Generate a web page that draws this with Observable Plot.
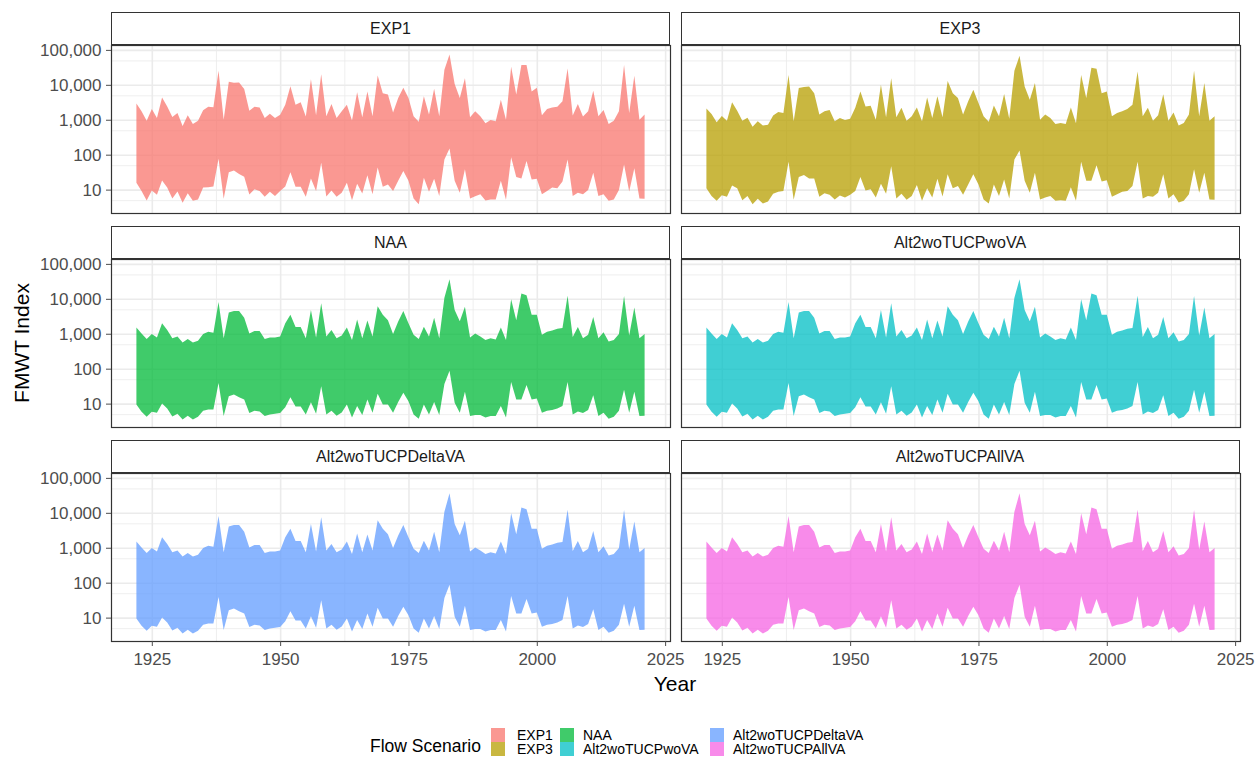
<!DOCTYPE html>
<html>
<head>
<meta charset="utf-8">
<script src="https://cdn.jsdelivr.net/npm/d3@7"></script>
<script src="https://cdn.jsdelivr.net/npm/@observablehq/plot@0.6"></script>
<style>
  html, body { margin: 0; padding: 0; background: #fff; }
  #root { position: relative; width: 1256px; height: 764px; font-family: "Liberation Sans", Arial, sans-serif; overflow: hidden; }
  .strip { position: absolute; box-sizing: border-box; border: 1.2px solid #333; background: #fff; text-align: center; font-size: 16px; color: #1a1a1a; }
  .abs { position: absolute; }
  .key { position: absolute; width: 14px; height: 14px; }
  .lab { position: absolute; font-size: 14px; color: #000; line-height: 14px; }
</style>
</head>
<body>
<div id="root"></div>
<script>
// ---------------- data ----------------
const years = d3.range(1922, 2022);
const scenarios = ["EXP1", "EXP3", "NAA", "Alt2woTUCPwoVA", "Alt2woTUCPDeltaVA", "Alt2woTUCPAllVA"];
const colors = ["#F8766D", "#B79F00", "#00BA38", "#00BFC4", "#619CFF", "#F564E3"];

const exp1Upper = [2900,1740,930,2040,1120,4370,2400,1200,1550,660,1350,760,930,1860,2340,2290,25100,1000,12300,11500,
  11700,7600,1820,2340,2240,1120,1480,1120,1380,2690,9100,2690,3160,1230,14500,1350,20000,1260,2820,1120,
  1740,2690,950,6170,1170,6460,1260,18600,5750,5250,1620,4170,8300,4170,1260,870,4680,1410,7760,1260,
  26900,74100,10500,4170,15500,1170,1740,1260,790,980,910,3720,1000,33100,5250,37200,37200,6460,8300,1350,
  2040,2240,2340,3390,29500,1320,2820,1230,1740,6760,1260,1910,760,930,1740,37200,1550,18200,1000,1410];
const exp1Lower = [15.8,9.1,4.9,9.5,7.1,18.2,11.5,5.6,8.9,4.2,7.9,4.8,5.2,11.5,11.7,12.3,75.9,5.5,31.6,35.5,
  28.2,23.4,7.2,10.2,9.1,6.2,8.7,6.6,9.1,12.3,31.6,12.0,12.0,6.2,20.9,9.1,58.9,6.3,9.5,6.2,
  8.1,15.8,5.0,14.8,7.8,25.7,7.4,42.7,12.0,14.1,9.1,17.8,33.9,17.8,5.6,3.8,21.9,8.7,20.4,6.6,
  72.4,151,17.8,8.1,38.0,5.6,6.5,7.4,4.9,5.2,5.2,17.8,5.1,85.1,22.9,20.9,66.1,19.5,20.4,7.4,
  9.1,11.5,11.0,17.0,72.4,6.6,8.1,7.4,9.8,30.2,6.6,7.4,4.8,5.2,9.8,52.5,8.9,40.7,5.6,5.5];

const exp3Upper = [2090,1450,850,1290,930,3160,1820,930,1150,630,910,680,720,1320,1660,1550,19100,910,8130,8710,
  8910,5750,1410,1740,1910,910,1120,980,1070,2190,6460,2400,2510,1000,10000,1170,15500,1170,2190,930,
  1260,2240,910,4370,1120,4680,1170,12900,5750,4170,1410,3390,7240,3020,1260,870,2570,1260,5500,1070,
  25100,67600,8910,3720,11200,1000,1410,1120,760,810,760,2240,790,19100,4170,30900,28800,5750,6460,1260,
  1550,1740,2040,2690,24000,1260,2190,930,1350,5370,930,1620,690,810,1410,25100,1260,11200,930,1260];
const exp3Lower = [11.0,6.6,4.8,6.9,6.2,13.2,11.0,5.0,6.6,3.8,5.5,4.0,4.6,7.6,8.7,9.1,63.1,5.1,22.9,26.3,
  20.9,20.9,6.2,7.9,7.1,5.2,6.8,5.9,7.1,9.1,22.9,9.5,10.2,5.9,14.8,7.6,46.8,5.6,7.6,5.1,
  6.6,13.5,4.8,11.0,5.9,20.4,6.3,27.5,11.0,12.6,7.1,14.1,27.5,14.1,5.2,4.0,14.1,6.6,19.5,5.6,
  72.4,132,17.8,8.1,30.2,5.2,5.9,6.6,4.8,5.0,4.8,11.7,4.8,63.1,17.8,17.8,50.1,17.0,18.6,6.2,
  7.4,8.7,9.1,12.6,63.1,5.6,6.6,6.2,8.1,27.5,5.6,7.4,4.3,4.8,7.4,38.0,8.1,30.2,5.2,5.1];

const naaUpper = [1510,1020,710,980,780,2000,1290,740,830,560,710,560,630,980,1150,1070,8130,740,4070,4470,
  4470,2880,1020,1200,1200,710,780,780,830,2000,3470,1550,1550,740,4790,780,7410,830,1290,740,
  890,1510,660,2570,740,2400,830,6170,3470,2450,980,2240,4470,2000,930,710,1580,830,2880,740,
  10700,36300,4790,2290,5890,780,1020,830,660,740,690,1510,660,9770,2450,14100,12600,3470,3470,930,
  1150,1230,1380,1450,12300,810,1550,740,930,3020,740,1100,600,660,980,12000,890,5620,740,980];
const naaLower = [9.5,5.8,4.2,5.8,5.5,10.0,7.2,4.3,5.1,3.5,4.5,3.5,4.2,6.2,6.8,6.8,38.9,4.4,16.2,18.2,
  15.1,13.2,5.4,6.2,5.9,4.4,4.9,5.1,5.4,7.9,15.1,8.3,8.3,4.9,11.0,5.1,31.6,4.9,6.2,4.5,
  5.6,9.5,4.0,8.5,4.7,13.2,5.5,19.1,9.5,9.5,5.5,11.2,20.4,11.7,4.9,3.7,9.5,4.9,11.2,4.7,
  36.3,87.1,10.5,5.5,21.9,4.4,4.7,4.7,4.0,4.4,4.4,8.5,4.0,41.7,13.2,13.2,33.9,13.2,14.1,5.5,
  6.2,6.6,7.2,8.5,41.7,4.9,5.9,5.4,6.6,17.4,4.4,5.5,3.7,4.2,6.2,25.1,5.5,21.9,4.4,4.5];

// The three Alt2 scenarios read the same as NAA in the picture
const alt2woVAUpper = naaUpper, alt2woVALower = naaLower;
const alt2DeltaUpper = naaUpper, alt2DeltaLower = naaLower;
const alt2AllUpper = naaUpper, alt2AllLower = naaLower;

const seriesUpper = [exp1Upper, exp3Upper, naaUpper, alt2woVAUpper, alt2DeltaUpper, alt2AllUpper];
const seriesLower = [exp1Lower, exp3Lower, naaLower, alt2woVALower, alt2DeltaLower, alt2AllLower];

const xMajor = [1925, 1950, 1975, 2000, 2025];
const xMinor = [1937.5, 1962.5, 1987.5, 2012.5];
const yMajor = [10, 100, 1000, 10000, 100000];
const yMinor = [5, 50, 500, 5000, 50000];

// ---------------- layout ----------------
const root = document.getElementById("root");
const panelLeft = [111, 680.5];
const panelW = 559;
const stripTop = [12, 226, 440];
const stripH = 33;
const panelH = 168;
const font = "Liberation Sans, Arial, sans-serif";

scenarios.forEach((name, i) => {
  const row = Math.floor(i / 2), col = i % 2;
  const data = years.map((y, k) => ({year: y, lo: seriesLower[i][k], hi: seriesUpper[i][k]}));
  const left = col === 0;
  const bottom = row === 2;
  const mL = left ? 111 : 2, mR = 2, mT = 1, mB = bottom ? 40 : 2;

  // strip
  const s = document.createElement("div");
  s.className = "strip";
  s.style.left = panelLeft[col] + "px";
  s.style.top = stripTop[row] + "px";
  s.style.width = panelW + "px";
  s.style.height = stripH + "px";
  s.style.lineHeight = (stripH - 2) + "px";
  s.textContent = name;
  root.appendChild(s);

  const marks = [
    Plot.ruleX(xMinor, {stroke: "#ebebeb", strokeWidth: 0.8}),
    Plot.ruleY(yMinor, {stroke: "#ebebeb", strokeWidth: 0.8}),
    Plot.ruleX(xMajor, {stroke: "#ebebeb", strokeWidth: 1.6}),
    Plot.ruleY(yMajor, {stroke: "#ebebeb", strokeWidth: 1.6}),
    Plot.areaY(data, {x: "year", y1: "lo", y2: "hi", fill: colors[i], fillOpacity: 0.75}),
    Plot.frame({stroke: "#333", strokeWidth: 1.2})
  ];
  if (left) marks.push(Plot.axisY(yMajor, {tickFormat: d3.format(","), tickSize: 5, tickPadding: 5, fontSize: 17, color: "#4d4d4d", label: null}));
  if (bottom) marks.push(Plot.axisX(xMajor, {tickFormat: d => String(d), tickSize: 5, tickPadding: 6, fontSize: 17, color: "#4d4d4d", label: null}));

  const chart = Plot.plot({
    width: mL + panelW + mR,
    height: mT + panelH + mB,
    marginLeft: mL, marginRight: mR, marginTop: mT, marginBottom: mB,
    style: {fontFamily: font, background: "transparent", overflow: "visible", color: "#4d4d4d"},
    x: {domain: [1917.05, 2025.95], axis: null},
    y: {type: "log", domain: [2.14, 138000], axis: null},
    marks
  });
  chart.style.position = "absolute";
  chart.style.left = (panelLeft[col] - mL) + "px";
  chart.style.top = (stripTop[row] + stripH - mT) + "px";
  root.appendChild(chart);
});

// axis titles
const yt = document.createElement("div");
yt.className = "abs";
yt.textContent = "FMWT Index";
Object.assign(yt.style, {left: "22px", top: "343px", fontSize: "21px", color: "#000", whiteSpace: "nowrap",
  transform: "translate(-50%,-50%) rotate(-90deg)"});
root.appendChild(yt);

const xt = document.createElement("div");
xt.className = "abs";
xt.textContent = "Year";
Object.assign(xt.style, {left: "675px", top: "684px", fontSize: "21px", color: "#000", transform: "translate(-50%,-50%)"});
root.appendChild(xt);

// legend
const lt = document.createElement("div");
lt.className = "abs";
lt.textContent = "Flow Scenario";
Object.assign(lt.style, {left: "370px", top: "746px", fontSize: "17.5px", color: "#000", transform: "translateY(-50%)", whiteSpace: "nowrap"});
root.appendChild(lt);

const keyX = [491, 560, 710];
const labX = [517, 583, 733];
const keyY = [728, 742];
scenarios.forEach((name, i) => {
  const c = Math.floor(i / 2), r = i % 2;
  const k = document.createElement("div");
  k.className = "key";
  k.style.left = keyX[c] + "px";
  k.style.top = keyY[r] + "px";
  k.style.background = colors[i];
  k.style.opacity = 0.75;
  root.appendChild(k);
  const l = document.createElement("div");
  l.className = "lab";
  l.style.left = labX[c] + "px";
  l.style.top = keyY[r] + "px";
  l.textContent = name;
  root.appendChild(l);
});
</script>
</body>
</html>
